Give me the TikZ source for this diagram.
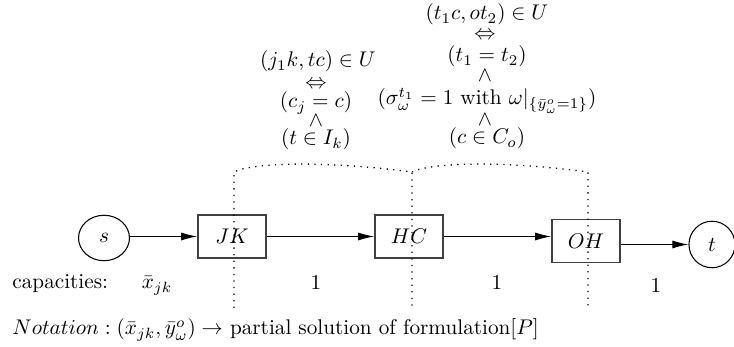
\documentclass[tikz,border=0pt]{standalone}
\usetikzlibrary{shapes.geometric,arrows.meta}
\begin{document}
\begin{tikzpicture}[x=0.471pt,y=-0.471pt,
  state/.style={ellipse,draw,line width=0.5pt,minimum width=24pt,minimum height=21.4pt,inner sep=0pt},
  box/.style={rectangle,draw=black!75,line width=0.75pt,minimum width=32pt,minimum height=20.25pt,inner sep=0pt},
  flow/.style={-{Latex[length=7.6pt,width=3.8pt]},line width=0.5pt},
  cut/.style={dash pattern=on 0.6pt off 2.5pt,line width=0.6pt},
  lbl/.style={inner sep=0pt,anchor=base}]
\useasboundingbox (0,0) rectangle (734,347);
% nodes
\node[state] (s) at (104,238) {$s$};
\node[box] (JK) at (232,236.5) {$JK$};
\node[box] (HC) at (409,236.5) {$HC$};
\node[box] (OH) at (586,241) {$OH$};
\node[state,minimum width=21.7pt,minimum height=21.9pt] (t) at (712,244.5) {$t$};
% connectors
\draw[flow] (s.east |- JK.west) -- (JK.west);
\draw[flow] (JK.east) -- (HC.west);
\draw[flow] (HC.east) -- (HC.east -| OH.west);
\draw[flow] (OH.east |- t.west) -- (t.west);
% cuts
\coordinate (c1t) at (234,172);
\coordinate (c1b) at (234,308);
\coordinate (c2t) at (412,172);
\coordinate (c2b) at (412,308);
\coordinate (c3t) at (588,172);
\coordinate (c3b) at (588,308);
\draw[cut] (c1b) -- (c1t) .. controls (252,163) and (320,160) .. (c2t) -- (c2b);
\draw[cut] (c2t) .. controls (430,163) and (498,160) .. (c3t) -- (c3b);
% left block
\node[lbl] (l1) at (318,67) {$(j_1k,tc)\in U$};
\node[lbl] (l2) at (316,89) {$\Leftrightarrow$};
\node[lbl] (l3) at (316,108) {$(c_j=c)$};
\node[lbl] (l4) at (316,127) {$\wedge$};
\node[lbl] (l5) at (316,145) {$(t\in I_k)$};
% right block
\node[lbl] (r1) at (487,20) {$(t_1c,ot_2)\in U$};
\node[lbl] (r2) at (485,40) {$\Leftrightarrow$};
\node[lbl] (r3) at (487,62) {$(t_1=t_2)$};
\node[lbl] (r4) at (485,82) {$\wedge$};
\node[lbl] (r5) at (487,105) {$(\sigma^{t_1}_{\omega}=1$ with $\omega|_{\{\bar y^o_\omega=1\}})$};
\node[lbl] (r6) at (485,126) {$\wedge$};
\node[lbl] (r7) at (487,144) {$(c\in C_o)$};
% capacities
\node[lbl,anchor=base west] (cap) at (12,289) {capacities:};
\node[lbl] (k0) at (157,289) {$\bar x_{jk}$};
\node[lbl] (k1) at (316,290) {$1$};
\node[lbl] (k2) at (497,290) {$1$};
\node[lbl] (k3) at (656,293) {$1$};
% notation
\node[lbl,anchor=base west] (note) at (12,335) {$Notation:(\bar x_{jk},\bar y^o_\omega)\rightarrow$ partial solution of formulation$[P]$};
\end{tikzpicture}
\end{document}
